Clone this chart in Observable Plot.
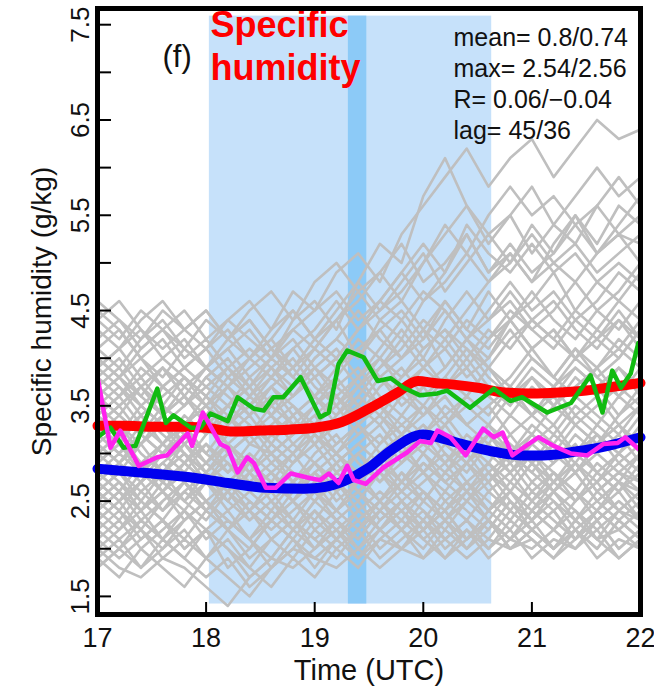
<!DOCTYPE html>
<html><head><meta charset="utf-8">
<script src="https://cdn.jsdelivr.net/npm/d3@7"></script>
<script src="https://cdn.jsdelivr.net/npm/@observablehq/plot@0.6"></script>
<style>body{margin:0;background:#fff}</style>
</head><body><div id="chart"></div>
<script>
// ---- text ----
const titleText = "Specific\nhumidity";
const panelText = "(f)";
const statsText = "mean= 0.8/0.74\nmax= 2.54/2.56\nR= 0.06/\u22120.04\nlag= 45/36";
const xLabel = "Time (UTC)";
const yLabel = "Specific humidity (g/kg)";
const xTickVals = [17, 18, 19, 20, 21, 22];
const xInnerTicks = [18, 19, 20, 21];
const yTickVals = [1.5, 2, 2.5, 3, 3.5, 4, 4.5, 5, 5.5, 6, 6.5, 7, 7.5];
const yLabelVals = [1.5, 2.5, 3.5, 4.5, 5.5, 6.5, 7.5];

// ---- shaded windows ----
const shadeX1 = [18.03, 19.31];
const shadeX2 = [20.63, 19.48];
const shadeY1 = [1.42, 1.42];
const shadeY2 = [7.59, 7.59];
const shadeFill = ["#c6e1fa", "#8ccaf7"];

// ---- coloured series ----
const redT = [17.0,17.25,17.5,17.75,18.0,18.25,18.5,18.75,19.0,19.25,19.5,19.75,19.95,20.1,20.3,20.5,20.75,21.0,21.25,21.5,21.75,22.0];
const redV = [3.29,3.29,3.28,3.28,3.27,3.23,3.24,3.25,3.27,3.33,3.47,3.63,3.76,3.74,3.72,3.69,3.64,3.63,3.64,3.66,3.70,3.74];
const blueT = [17.0,17.4,17.85,18.2,18.55,18.9,19.1,19.27,19.5,19.7,20.0,20.2,20.35,20.6,20.9,21.1,21.4,21.7,22.0];
const blueV = [2.84,2.80,2.75,2.69,2.64,2.63,2.65,2.71,2.85,3.03,3.20,3.15,3.10,3.03,2.98,2.98,3.02,3.08,3.17];
const greenT = [17.00,17.12,17.24,17.35,17.55,17.63,17.70,17.86,17.95,18.04,18.20,18.29,18.44,18.53,18.62,18.71,18.87,19.05,19.13,19.22,19.30,19.45,19.58,19.70,19.82,19.97,20.13,20.22,20.43,20.65,20.80,20.91,21.14,21.36,21.54,21.65,21.74,21.82,21.91,21.98];
const greenV = [3.17,3.27,3.06,3.08,3.68,3.32,3.40,3.27,3.27,3.42,3.34,3.59,3.47,3.45,3.59,3.59,3.80,3.38,3.43,3.94,4.08,4.01,3.76,3.79,3.69,3.61,3.63,3.66,3.48,3.68,3.55,3.59,3.43,3.53,3.82,3.43,3.87,3.69,3.84,4.16];
const magT = [17.00,17.12,17.21,17.38,17.55,17.64,17.83,17.87,17.97,18.13,18.20,18.29,18.38,18.44,18.55,18.64,18.78,18.96,19.05,19.13,19.22,19.30,19.36,19.47,19.63,19.85,19.97,20.07,20.13,20.25,20.39,20.55,20.65,20.73,20.82,21.06,21.20,21.36,21.51,21.66,21.79,21.86,21.98];
const magV = [3.80,3.06,3.24,2.87,2.96,2.98,3.21,3.08,3.43,3.10,3.06,2.80,2.96,2.90,2.64,2.64,2.79,2.74,2.72,2.79,2.69,2.87,2.72,2.68,2.85,3.01,3.13,3.11,3.24,3.17,2.98,3.26,3.17,3.22,2.98,3.17,3.08,3.00,2.98,3.10,3.11,3.17,3.05];

// ---- gray ensemble members ----
const grayT = [17.0,17.2,17.4,17.6,17.8,18.0,18.2,18.4,18.6,18.8,19.0,19.2,19.4,19.6,19.8,20.0,20.2,20.4,20.6,20.8,21.0,21.2,21.4,21.6,21.8,22.0];
const grayRuns = [
[4.2,4.4,4.1,4.3,4.5,4.2,4.4,4.6,4.3,4.7,4.5,4.9,5.1,4.8,5.3,5.6,5.9,6.2,5.8,6.1,6.3,5.9,6.2,6.5,6.3,6.4],
[3.9,4.1,3.8,4.0,4.2,3.9,4.1,4.3,4.0,4.4,4.6,4.3,4.8,5.2,5.0,5.7,6.1,5.6,5.3,5.5,5.1,5.4,5.2,5.6,5.3,5.5],
[4.4,4.2,4.5,4.3,4.1,4.4,4.2,4.5,4.7,4.4,4.8,5.0,4.7,4.9,5.2,4.8,5.0,5.3,4.9,5.1,4.8,5.0,5.2,4.9,5.1,5.3],
[3.6,3.8,4.0,3.7,3.9,4.1,3.8,4.0,4.2,3.9,4.1,4.4,4.0,4.3,4.5,4.2,4.6,4.3,4.7,4.4,4.6,4.9,4.5,4.8,4.6,4.9],
[3.4,3.6,3.3,3.7,3.5,3.8,3.6,3.4,3.7,3.9,3.6,3.8,4.1,3.8,4.0,4.3,3.9,4.2,4.0,4.4,4.1,4.3,4.0,4.2,4.5,4.2],
[3.2,3.0,3.3,3.1,3.4,3.2,3.5,3.3,3.1,3.4,3.6,3.3,3.5,3.8,3.5,3.7,3.4,3.6,3.9,3.6,3.8,3.5,3.7,3.9,3.6,3.8],
[3.0,3.2,2.9,3.1,3.3,3.0,2.8,3.1,3.0,3.2,3.4,3.1,3.3,3.5,3.2,3.4,3.6,3.3,3.5,3.2,3.4,3.7,3.4,3.6,3.3,3.5],
[2.8,2.6,2.9,2.7,2.5,2.8,2.6,2.9,2.7,2.5,2.8,3.0,2.7,2.9,3.1,2.8,3.0,2.7,2.9,3.2,2.9,3.1,2.8,3.0,3.2,2.9],
[2.6,2.8,2.5,2.3,2.6,2.4,2.7,2.5,2.3,2.6,2.8,2.5,2.7,2.9,2.6,2.8,2.5,2.7,2.4,2.6,2.9,2.6,2.8,2.5,2.7,2.6],
[2.4,2.2,2.5,2.3,2.1,2.4,2.2,2.0,2.3,2.5,2.2,2.4,2.6,2.3,2.5,2.2,2.4,2.7,2.4,2.6,2.3,2.5,2.2,2.4,2.6,2.3],
[2.2,2.0,2.3,2.1,1.9,2.2,1.8,2.0,2.3,2.1,2.4,2.2,2.0,2.3,2.5,2.2,2.4,2.1,2.3,2.0,2.2,2.4,2.1,2.3,2.0,2.2],
[1.9,2.1,1.8,2.0,2.2,1.9,1.7,1.5,1.8,2.0,1.9,2.1,2.3,2.0,2.2,1.9,2.1,2.3,2.0,2.2,1.9,2.1,2.0,2.2,1.9,2.1],
[2.0,1.8,1.7,1.9,1.8,1.6,1.4,1.7,1.9,1.8,2.0,2.2,1.9,2.1,2.0,2.2,2.4,2.1,2.3,2.1,2.0,2.2,2.4,2.1,2.2,2.0],
[3.8,3.6,3.9,3.7,3.5,3.8,4.0,3.7,3.9,3.6,3.8,4.0,3.7,3.9,4.2,3.9,4.1,3.8,4.0,4.3,4.0,3.8,4.1,3.9,4.2,4.0],
[3.3,3.5,3.7,3.4,3.6,3.3,3.5,3.7,3.4,3.2,3.5,3.7,3.9,3.6,3.4,3.7,3.9,4.2,3.9,3.7,4.0,3.8,4.1,3.8,4.0,4.3],
[2.9,3.1,2.8,3.0,3.2,2.9,3.1,2.8,2.6,2.9,3.1,2.8,3.0,2.7,2.9,3.2,2.9,3.1,2.8,3.0,2.7,2.9,3.1,2.8,3.0,2.8],
[2.7,2.5,2.8,2.6,2.9,2.7,2.4,2.6,2.8,2.5,2.7,2.4,2.6,2.8,2.5,2.7,2.9,2.6,2.4,2.7,2.5,2.8,2.6,2.4,2.7,2.5],
[2.5,2.7,2.4,2.6,2.3,2.5,2.7,2.4,2.2,2.4,2.6,2.3,2.5,2.2,2.4,2.6,2.3,2.5,2.7,2.4,2.2,2.4,2.6,2.3,2.5,2.3],
[3.5,3.3,3.1,3.4,3.2,3.0,3.3,3.5,3.2,3.4,3.1,3.3,3.6,3.4,3.7,3.5,3.3,3.6,3.4,3.7,3.5,3.3,3.6,3.4,3.2,3.5],
[4.0,3.8,3.6,3.9,3.7,3.5,3.8,3.6,3.9,4.1,3.8,4.0,4.3,4.6,4.4,4.7,4.5,4.2,4.5,4.8,4.5,4.7,4.4,4.6,4.9,4.7],
[2.3,2.5,2.7,2.4,2.6,2.8,2.5,2.3,2.5,2.7,2.9,2.6,2.8,3.0,2.7,2.5,2.8,3.0,2.7,2.9,2.6,2.8,2.5,2.7,2.9,2.7],
[2.1,2.3,2.0,2.2,2.4,2.1,2.3,2.1,1.9,2.2,2.0,2.3,2.1,2.4,2.2,2.0,2.3,2.1,2.4,2.2,2.5,2.3,2.1,2.4,2.2,2.4],
[3.1,2.9,3.2,3.4,3.1,3.3,3.0,3.2,3.4,3.1,3.3,3.0,3.2,3.4,3.1,3.3,3.1,2.9,3.2,3.0,3.3,3.1,3.4,3.2,3.0,3.2],
[4.5,4.3,4.0,4.2,3.9,4.1,4.3,4.0,3.8,4.1,4.3,4.6,4.3,4.5,4.8,5.1,4.7,5.0,5.3,5.0,5.4,5.1,5.5,5.2,5.6,5.4],
[3.7,3.9,3.6,3.4,3.7,3.9,3.7,3.5,3.8,3.6,3.9,3.7,3.5,3.8,3.6,3.9,3.7,4.0,3.7,3.5,3.8,3.6,3.9,3.7,3.4,3.7],
[2.6,2.4,2.2,2.5,2.7,2.4,2.6,2.3,2.5,2.2,2.5,2.7,2.4,2.6,2.4,2.2,2.5,2.3,2.6,2.4,2.7,2.5,2.3,2.6,2.4,2.6],
[3.3,3.1,3.4,3.2,3.0,2.8,3.0,3.2,2.9,3.1,2.9,3.1,3.3,3.0,3.2,3.5,3.2,3.0,3.3,3.1,2.9,3.2,3.0,3.3,3.1,3.4],
[1.8,2.0,2.2,1.9,2.1,1.9,2.2,2.4,2.1,1.9,2.2,2.0,1.8,2.1,2.3,2.1,1.9,2.2,2.0,2.3,2.1,1.9,2.2,2.0,2.3,2.1],
[4.1,3.9,4.2,4.4,4.1,3.9,3.7,4.0,4.2,4.5,4.2,4.4,4.7,4.4,4.6,4.3,4.1,4.4,4.2,4.5,4.3,4.1,4.4,4.2,4.0,4.3],
[2.9,2.7,2.5,2.8,3.0,2.7,2.9,2.6,2.8,3.0,2.7,2.9,2.6,2.8,3.1,2.8,2.6,2.9,2.7,3.0,2.8,2.6,2.9,2.7,3.0,2.8],
[3.6,3.4,3.2,3.5,3.3,3.6,3.4,3.2,3.5,3.3,3.1,3.4,3.6,3.9,4.1,4.4,4.2,4.5,4.8,5.1,4.8,5.2,5.5,5.1,5.4,5.7],
[2.4,2.6,2.3,2.1,2.4,2.2,2.0,1.7,1.9,2.2,2.4,2.1,2.3,2.5,2.2,2.4,2.1,2.3,2.1,2.0,2.2,2.0,2.3,2.1,1.9,2.1],
[3.0,3.2,3.4,3.1,2.9,3.2,3.4,3.1,3.3,3.5,3.2,3.0,3.3,3.1,3.4,3.2,3.5,3.3,3.1,3.4,3.2,3.5,3.3,3.1,3.4,3.6],
[2.7,2.9,3.1,2.8,3.0,2.7,2.5,2.8,3.0,2.8,2.6,2.9,3.1,2.9,2.7,3.0,2.8,3.1,2.9,2.7,3.0,2.8,2.6,2.9,2.7,3.0],
[3.5,3.7,3.4,3.6,3.8,3.5,3.3,3.6,3.4,3.7,3.9,3.6,3.8,3.5,3.8,4.0,3.7,3.9,3.6,3.8,4.1,3.8,3.6,3.9,4.1,3.9],
[2.5,2.3,2.6,2.8,2.5,2.7,2.9,2.6,2.4,2.7,2.5,2.8,2.6,2.4,2.7,2.9,2.7,2.5,2.8,2.6,2.9,2.7,2.9,2.6,2.8,2.6],
[3.9,4.1,4.3,4.0,3.8,3.6,3.9,4.1,3.9,3.7,4.0,4.2,4.5,4.2,4.0,4.3,4.6,4.3,4.1,4.4,4.7,4.4,4.2,4.5,4.3,4.6],
[2.0,2.2,2.4,2.1,2.3,2.5,2.2,1.9,2.1,2.3,2.1,1.9,2.2,2.4,2.2,2.5,2.3,2.6,2.3,2.1,2.4,2.6,2.3,2.5,2.7,2.4],
[3.2,3.4,3.2,3.0,3.3,3.5,3.7,3.4,3.6,3.3,3.5,3.8,3.5,3.3,3.6,3.4,3.7,3.9,3.6,3.4,3.7,3.5,3.8,3.6,3.9,3.7],
[2.8,3.0,2.8,3.1,2.9,2.7,3.0,2.8,3.1,2.9,3.1,2.8,3.0,3.2,2.9,3.1,3.3,3.0,3.2,2.9,3.1,3.3,3.0,3.2,2.9,3.1],
[4.3,4.1,4.4,4.6,4.3,4.5,4.2,4.4,4.1,4.3,4.5,4.7,4.4,4.6,4.9,5.2,4.9,5.4,5.1,4.9,5.2,4.9,5.1,4.8,5.0,4.8],
[2.3,2.1,2.3,2.5,2.7,2.4,2.2,2.4,2.6,2.3,2.1,2.3,2.0,2.2,2.4,2.1,2.3,2.0,2.2,2.5,2.2,2.0,2.3,2.1,2.4,2.2],
[3.4,3.2,3.5,3.3,3.1,3.3,3.1,2.9,3.2,3.0,3.3,3.5,3.2,3.4,3.2,3.0,3.3,3.5,3.3,3.6,3.4,3.2,3.5,3.3,3.6,3.4],
[2.6,2.8,2.6,2.4,2.7,2.9,2.7,2.9,2.6,2.8,2.6,2.4,2.7,2.5,2.8,2.6,2.4,2.6,2.8,2.5,2.3,2.6,2.8,2.5,2.3,2.5],
[3.7,3.5,3.7,3.9,3.6,3.4,3.7,3.9,4.1,3.8,3.6,3.9,4.1,4.3,4.0,4.2,4.5,4.2,4.4,4.7,4.4,4.2,4.5,4.3,4.6,4.4],
[3.1,3.3,3.0,2.8,3.1,2.9,3.2,3.4,3.1,2.9,3.2,3.0,2.8,3.1,3.3,3.1,2.9,3.2,3.0,2.8,3.1,2.9,3.2,3.0,2.8,3.0],
[2.2,2.4,2.1,2.3,2.0,2.2,2.0,1.8,2.1,2.3,2.0,2.2,2.4,2.2,2.0,1.9,2.2,2.0,2.3,2.1,2.4,2.2,2.0,2.3,2.5,2.3],
[4.6,4.4,4.2,4.5,4.3,4.1,4.4,4.2,4.0,4.3,4.1,4.4,4.6,4.9,4.6,5.0,5.3,5.6,5.2,5.5,5.8,5.4,5.7,6.0,5.7,5.9],
[3.0,2.8,3.1,3.3,3.0,2.8,3.1,2.9,2.7,3.0,3.2,2.9,3.1,3.3,3.0,3.2,3.4,3.1,3.3,3.0,3.2,3.0,3.3,3.1,3.3,3.1],
[2.5,2.7,2.4,2.6,2.8,2.5,2.3,2.1,2.4,2.2,2.5,2.3,2.1,2.4,2.6,2.4,2.2,2.5,2.3,2.6,2.4,2.2,2.5,2.7,2.4,2.6],
[3.8,4.0,3.7,3.9,3.6,3.9,4.1,3.8,4.0,4.2,3.9,4.1,3.8,4.1,4.4,4.1,4.3,4.0,4.3,4.1,4.4,4.6,4.3,4.1,4.4,4.2],
[1.9,1.7,2.0,1.8,1.6,1.9,2.1,1.8,1.6,1.9,1.7,2.0,2.2,1.9,2.1,2.3,2.0,2.2,1.9,2.1,2.3,2.0,2.2,2.0,2.3,2.1],
[3.3,3.5,3.2,3.0,3.2,3.4,3.1,3.3,3.0,3.2,3.4,3.6,3.3,3.5,3.7,3.4,3.6,3.3,3.5,3.7,3.4,3.6,3.3,3.5,3.7,3.5],
[2.8,2.6,2.4,2.7,2.5,2.3,2.6,2.4,2.7,2.5,2.3,2.6,2.8,2.5,2.7,3.0,2.7,2.9,2.6,2.8,2.5,2.7,2.9,2.6,2.8,2.7],
[4.1,4.3,4.0,3.8,4.1,3.9,4.2,4.4,4.1,3.9,4.2,4.0,4.3,4.6,4.9,4.6,4.8,5.1,4.8,5.0,5.3,5.0,4.8,5.1,5.3,5.0],
[2.3,2.5,2.2,2.0,2.3,2.5,2.3,2.1,1.8,2.0,2.3,2.1,2.4,2.2,2.5,2.3,2.6,2.4,2.2,2.5,2.3,2.6,2.4,2.2,2.4,2.3],
[3.6,3.4,3.7,3.5,3.8,3.6,3.3,3.5,3.7,3.5,3.3,3.6,3.4,3.7,3.9,3.6,3.8,4.1,3.8,3.6,3.9,3.7,4.0,3.8,3.6,3.9],
[2.9,3.1,2.9,2.7,2.9,3.1,2.8,3.0,2.8,2.6,2.9,2.7,3.0,2.8,3.1,3.3,3.0,2.8,3.1,2.9,3.2,3.0,2.8,3.1,3.3,3.0],
[3.2,3.0,3.2,3.4,3.6,3.3,3.5,3.7,3.4,3.6,3.8,3.5,3.7,4.0,4.3,4.0,4.4,4.7,4.4,4.6,4.3,4.5,4.8,4.5,4.7,5.0],
[2.1,1.9,2.1,2.3,2.0,2.2,2.4,2.1,2.3,2.1,1.8,2.1,1.9,2.2,2.0,2.3,2.1,1.9,2.1,2.4,2.2,2.0,2.2,1.9,2.1,2.0],
[4.4,4.6,4.3,4.1,4.3,4.5,4.2,4.0,4.3,4.5,4.2,4.5,4.8,4.5,4.7,5.0,5.4,5.1,5.5,5.8,5.5,5.7,5.4,5.6,5.9,5.6],
[2.7,2.5,2.7,2.9,2.7,2.5,2.2,2.5,2.3,2.5,2.8,2.6,2.3,2.5,2.3,2.6,2.4,2.7,2.5,2.3,2.6,2.4,2.1,2.4,2.2,2.4],
[3.4,3.6,3.8,3.5,3.3,3.5,3.2,3.4,3.7,3.4,3.6,3.4,3.7,3.5,3.3,3.5,3.8,3.6,3.9,3.7,3.4,3.7,3.9,3.7,3.9,3.6],
[3.1,2.9,2.7,3.0,2.8,3.1,2.9,2.7,2.9,2.7,3.0,3.2,2.9,2.7,3.0,2.8,3.1,2.9,3.2,3.0,2.8,3.1,2.9,3.2,3.0,3.3],
[2.4,2.6,2.9,2.6,2.4,2.7,2.5,2.8,2.5,2.3,2.6,2.4,2.2,2.5,2.8,2.5,2.8,2.6,2.9,2.6,2.4,2.7,2.5,2.8,2.6,2.8],
[4.0,3.8,4.1,4.3,4.0,4.2,3.9,3.7,4.0,3.8,4.1,3.9,4.2,4.0,3.8,4.1,4.3,4.1,3.9,4.2,4.4,4.2,4.0,4.3,4.1,4.4],
[1.8,2.0,1.8,2.1,1.9,1.7,1.9,1.6,1.8,2.1,1.9,1.8,2.0,1.8,2.0,2.2,1.9,2.1,2.3,2.0,2.1,1.9,2.1,2.3,2.0,2.2],
[3.6,3.8,3.5,3.3,3.5,3.7,3.9,3.6,3.8,4.0,3.7,3.5,3.8,4.0,3.7,3.9,4.2,3.9,4.2,4.4,4.1,4.3,4.0,4.2,4.4,4.1],
[2.6,2.4,2.7,2.9,3.1,2.8,2.6,2.8,3.0,2.7,2.9,2.7,2.5,2.8,2.6,2.9,2.7,2.9,3.1,2.8,3.0,2.7,3.0,2.8,2.6,2.9],
[3.9,3.7,3.5,3.7,3.9,3.7,3.5,3.8,3.5,3.7,4.0,4.2,4.0,4.4,4.2,4.6,4.9,5.3,4.9,5.2,4.9,5.1,5.4,5.1,5.3,5.2]
];

// ---- build tables ----
const zip = (T, V) => T.map((t, i) => ({t, v: V[i]}));
const red = zip(redT, redV), blue = zip(blueT, blueV), green = zip(greenT, greenV), mag = zip(magT, magV);
const gray = grayRuns.flatMap((run, k) => run.map((v, i) => ({t: grayT[i], v, k})));
const shades = shadeX1.map((x1, i) => ({x1, x2: shadeX2[i], y1: shadeY1[i], y2: shadeY2[i], fill: shadeFill[i]}));

const font = "'Liberation Sans', Arial, Helvetica, sans-serif";
const chart = Plot.plot({
  width: 654, height: 687,
  marginLeft: 97, marginRight: 14, marginTop: 8, marginBottom: 73,
  style: {fontFamily: font, background: "#fff", color: "#111"},
  x: {domain: [17, 22]},
  y: {domain: [1.31, 7.67]},
  marks: [
    Plot.rect(shades, {x1: "x1", x2: "x2", y1: "y1", y2: "y2", fill: "fill"}),
    Plot.line(gray, {x: "t", y: "v", z: "k", stroke: "#bfbfbf", strokeWidth: 2.6, clip: true}),
    Plot.line(red, {x: "t", y: "v", stroke: "#ff0000", strokeWidth: 10, curve: "monotone-x"}),
    Plot.line(blue, {x: "t", y: "v", stroke: "#0000ee", strokeWidth: 10, curve: "monotone-x"}),
    Plot.line(green, {x: "t", y: "v", stroke: "#11bb11", strokeWidth: 4.5}),
    Plot.line(mag, {x: "t", y: "v", stroke: "#ff22ee", strokeWidth: 4.5}),
    Plot.tickY(yTickVals, {y: d => d, insetRight: 529, stroke: "#000", strokeWidth: 2}),
    Plot.tickX(xInnerTicks, {x: d => d, insetTop: 594, stroke: "#000", strokeWidth: 2}),
    Plot.axisX(xTickVals, {tickSize: 0, tickPadding: 13, fontSize: 27, fill: "#111"}),
    Plot.axisY(yLabelVals, {tickSize: 0, tickRotate: -90, tickPadding: 9, fontSize: 26, fill: "#111"}),
    Plot.text([xLabel], {text: d => d, frameAnchor: "bottom", dy: 45, lineAnchor: "top", textAnchor: "middle", fontSize: 29, fill: "#111"}),
    Plot.text([yLabel], {text: d => d, frameAnchor: "left", rotate: -90, dx: -55, lineAnchor: "middle", textAnchor: "middle", fontSize: 28, fill: "#111"}),
    Plot.text([titleText], {text: d => d, frameAnchor: "top-left", dx: 113, dy: -1, lineAnchor: "top", textAnchor: "start", lineHeight: 1.17, fontSize: 36, fontWeight: "bold", fill: "#ff0000"}),
    Plot.text([panelText], {text: d => d, frameAnchor: "top-left", dx: 65, dy: 58, lineAnchor: "bottom", textAnchor: "start", fontSize: 31, fill: "#111"}),
    Plot.text([statsText], {text: d => d, frameAnchor: "top-left", dx: 356, dy: 15, lineAnchor: "top", textAnchor: "start", lineHeight: 1.24, fontSize: 25, fill: "#111"}),
    Plot.frame({stroke: "#000", strokeWidth: 5})
  ]
});
document.getElementById("chart").appendChild(chart);
</script>
</body></html>
